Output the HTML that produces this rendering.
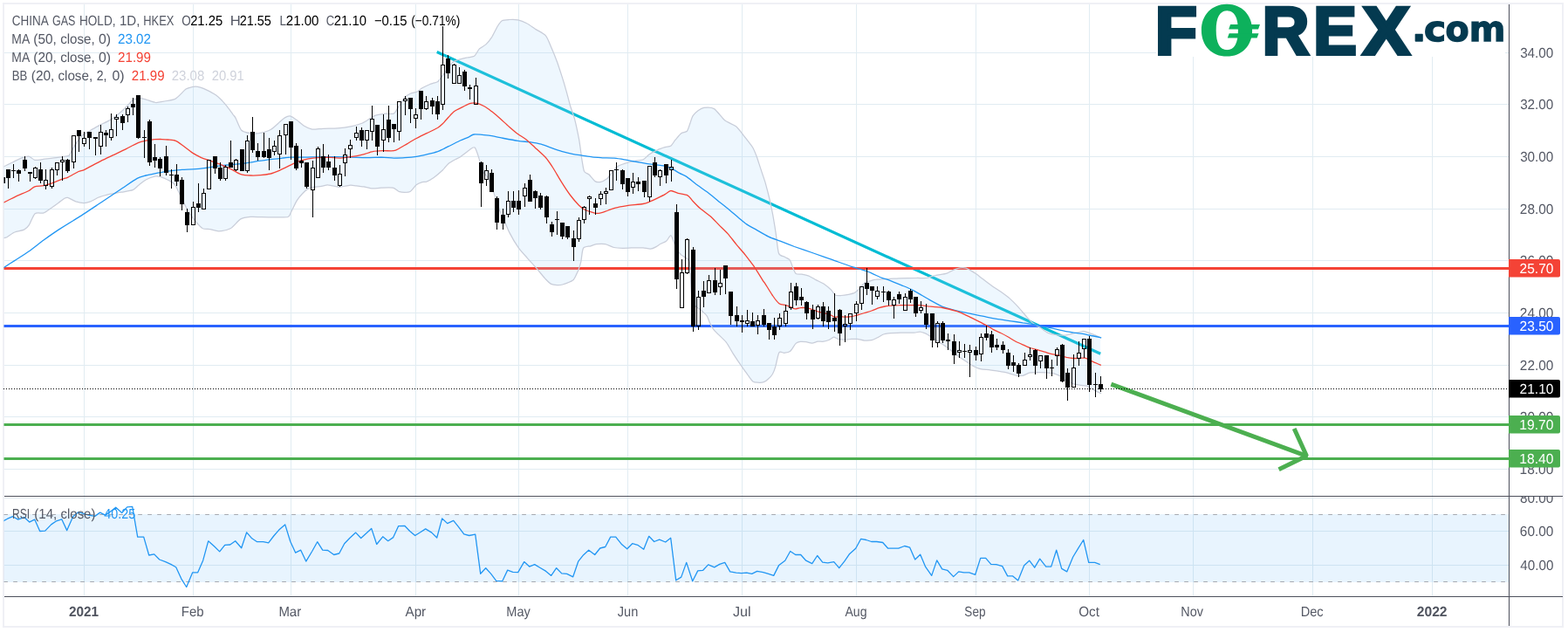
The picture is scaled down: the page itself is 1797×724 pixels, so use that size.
<!DOCTYPE html>
<html lang="en"><head><meta charset="utf-8"><title>CHINA GAS HOLD, 1D, HKEX</title>
<style>html,body{margin:0;padding:0;background:#fff;overflow:hidden}svg{display:block;font-family:"Liberation Sans",sans-serif}text{white-space:pre;text-rendering:geometricPrecision}</style>
</head><body>
<svg width="1797" height="724" viewBox="0 0 1797 724">
<rect width="1797" height="724" fill="#fff"/>
<rect x="4" y="4" width="1787" height="714" fill="none" stroke="#eff0f5" stroke-width="2"/>
<path d="M96.5 5V683M221.5 5V683M333.5 5V683M476.5 5V683M594.5 5V683M719.5 5V683M850.5 5V683M981.5 5V683M1118.5 5V683M1248.5 5V683M1367.5 5V683M1504.5 5V683M1641.5 5V683M4.5 537.5H1729M4.5 477.5H1729M4.5 418.5H1729M4.5 358.5H1729M4.5 298.5H1729M4.5 239.5H1729M4.5 179.5H1729M4.5 119.5H1729M4.5 60.5H1729M4.5 570.5H1729M4.5 608.5H1729M4.5 647.5H1729" stroke="#e1ecf2" stroke-width="1" fill="none" shape-rendering="crispEdges"/>
<rect x="4.5" y="589.0" width="1724.5" height="78.0" fill="#2196f3" fill-opacity="0.1"/>
<path d="M4.5 589.5H1729M4.5 666.5H1729" stroke="#a6a9b0" stroke-width="1" stroke-dasharray="4.7 6.3" stroke-dashoffset="0.3" fill="none"/>
<line x1="500.7" y1="59.5" x2="1261.2" y2="405.2" stroke="#00bcd4" stroke-width="3.2"/>
<g stroke="#4caf50" stroke-width="5" fill="none"><path d="M1273.4 440.1L1497.4 522.3"/><path d="M1483.2 491L1497.4 522.3L1465.6 537.8" stroke-linejoin="bevel"/></g>
<rect x="4.5" y="306.0" width="1724.5" height="3" fill="#f44336"/>
<rect x="4.5" y="372.0" width="1724.5" height="3" fill="#2962ff"/>
<rect x="4.5" y="485.0" width="1724.5" height="3" fill="#4caf50"/>
<rect x="4.5" y="524.0" width="1724.5" height="3" fill="#4caf50"/>
<clipPath id="cm"><rect x="4.5" y="5" width="1724.5" height="563"/></clipPath>
<g clip-path="url(#cm)">
<path d="M4.1 191.1C5.4 190.4 12.3 187.0 14.9 185.7C17.5 184.4 22.6 181.6 24.9 180.8C27.2 180.0 31.2 178.8 33.1 179.1C35.0 179.4 37.7 182.9 39.8 183.3C41.9 183.7 46.4 182.8 49.7 182.4C53.0 182.0 62.8 180.9 66.3 180.4C69.8 179.9 76.2 179.2 77.9 178.7C79.6 178.2 79.2 178.0 80.2 176.5C81.2 175.0 84.1 169.0 85.8 166.4C87.5 163.8 91.7 157.8 93.8 155.7C96.0 153.6 100.7 151.2 103.2 149.7C105.7 148.1 110.9 145.2 113.9 143.6C117.0 142.0 124.2 138.9 127.3 136.9C130.5 134.9 136.9 129.7 139.4 127.5C141.9 125.4 145.8 121.2 147.5 119.5C149.1 117.8 151.1 115.0 152.8 114.1C154.5 113.3 159.0 112.5 160.9 112.5C162.7 112.5 165.4 113.5 167.6 114.1C169.7 114.7 175.8 117.2 178.3 117.5C180.8 117.7 184.8 116.7 187.7 116.1C190.5 115.6 197.9 114.8 201.1 113.1C204.3 111.3 210.8 103.7 213.1 102.1C215.5 100.4 218.2 100.0 219.8 99.7C221.5 99.3 224.9 99.2 226.5 99.4C228.2 99.6 230.7 100.3 233.2 101.4C235.8 102.5 244.3 106.9 246.9 108.5C249.4 110.1 251.9 112.6 253.5 114.3C255.2 116.0 258.6 119.8 260.2 121.8C261.9 123.9 265.7 129.4 266.9 131.0C268.1 132.7 268.8 132.8 270.0 135.1C271.2 137.4 274.6 147.1 276.7 149.3C278.8 151.5 284.2 152.2 286.7 152.7C289.2 153.1 293.8 153.2 296.7 152.7C299.7 152.1 307.2 150.1 310.1 148.5C313.0 146.9 318.1 141.9 320.1 140.1C322.2 138.4 325.2 135.5 326.8 134.6C328.4 133.7 331.3 132.7 333.0 133.1C334.7 133.5 338.3 136.2 340.2 137.6C342.1 139.0 346.4 143.0 348.6 144.3C350.7 145.6 355.0 147.8 357.7 148.2C360.5 148.5 366.6 147.5 370.3 147.3C373.9 147.1 383.0 147.1 387.0 146.8C391.0 146.5 398.5 145.5 402.0 144.8C405.6 144.1 412.7 142.1 415.4 141.0C418.1 139.9 421.9 137.1 423.8 135.9C425.6 134.8 428.2 132.8 430.5 132.1C432.8 131.4 439.5 130.4 442.2 130.1C444.8 129.8 449.5 131.1 451.3 130.1C453.2 129.1 455.6 124.0 457.2 121.7C458.8 119.4 462.2 113.6 463.9 111.7C465.6 109.9 468.9 107.8 470.6 107.0C472.2 106.2 475.6 106.1 477.3 105.4C478.9 104.6 482.1 101.9 483.9 100.8C485.8 99.8 490.7 97.4 492.3 96.7C493.9 96.0 495.5 95.6 496.7 95.2C497.9 94.8 500.4 94.7 501.7 93.5C503.1 92.4 505.5 88.7 507.6 86.0C509.7 83.3 516.2 74.0 518.4 71.8C520.6 69.6 523.0 69.2 525.1 68.5C527.2 67.7 532.9 66.5 535.2 66.0C537.5 65.4 541.7 65.5 543.5 64.3C545.3 63.0 547.7 57.6 549.4 55.9C551.0 54.3 555.1 52.6 556.9 50.9C558.7 49.2 561.9 45.2 563.6 42.6C565.2 40.0 568.8 32.4 570.3 30.0C571.7 27.7 573.6 24.6 575.3 23.7C576.9 22.7 581.3 22.6 583.6 22.5C585.9 22.4 591.1 22.3 593.7 22.8C596.2 23.4 601.2 25.4 603.7 26.7C606.2 28.0 611.0 31.6 613.7 33.4C616.4 35.1 623.1 38.2 625.4 40.9C627.7 43.6 630.4 51.2 632.1 55.1C633.8 59.0 637.3 67.8 638.8 71.8C640.2 75.8 642.5 82.9 643.8 86.9C645.1 90.8 647.6 99.2 648.8 103.6C650.1 108.0 652.6 117.8 653.8 122.0C655.1 126.1 657.4 132.0 658.7 136.8C659.9 141.6 662.6 154.4 663.7 160.2C664.7 166.1 666.3 179.1 667.0 183.6C667.8 188.1 668.5 194.1 669.5 196.2C670.6 198.3 673.8 198.9 675.4 200.3C676.9 201.8 680.2 206.6 681.9 207.6C683.5 208.6 686.9 208.8 688.6 208.4C690.2 208.1 694.0 206.0 695.2 205.1C696.5 204.2 697.3 202.8 698.8 201.0C700.3 199.3 704.8 192.9 707.1 191.1C709.4 189.4 714.7 187.8 717.2 187.0C719.7 186.1 724.7 185.0 727.2 184.5C729.7 183.9 735.1 183.7 737.2 182.8C739.3 181.9 741.8 178.3 743.9 176.9C746.0 175.5 751.6 172.6 753.9 171.6C756.2 170.5 760.4 169.2 762.3 168.6C764.2 168.0 767.5 168.0 769.0 166.9C770.4 165.9 772.5 162.0 774.0 160.2C775.5 158.5 779.0 154.0 780.7 152.7C782.4 151.5 786.1 151.6 787.4 150.2C788.6 148.8 789.9 144.0 790.7 141.8C791.5 139.6 792.9 134.5 794.1 132.6C795.2 130.8 798.4 127.9 800.0 126.7C801.6 125.6 804.4 123.7 806.7 123.4C809.0 123.1 815.4 122.7 818.4 124.6C821.4 126.4 827.8 135.6 830.9 138.1C834.1 140.6 840.6 142.5 843.5 144.8C846.3 147.1 851.1 153.8 853.5 156.8C855.9 159.9 861.0 166.3 862.7 169.0C864.3 171.7 865.7 175.5 866.9 178.6C868.0 181.6 870.6 189.8 871.9 193.6C873.1 197.4 875.8 205.2 876.9 208.6C877.9 212.1 879.5 218.3 880.2 221.0C880.9 223.7 881.7 226.8 882.4 230.0C883.1 233.2 884.9 242.1 885.8 246.7C886.6 251.3 888.3 261.3 889.1 266.8C890.0 272.2 891.2 286.7 892.5 290.2C893.7 293.6 897.6 293.4 899.2 294.3C900.7 295.3 903.8 296.1 905.0 297.7C906.2 299.2 907.9 304.8 908.8 306.7C909.6 308.7 910.8 312.5 912.1 313.4C913.4 314.3 916.9 313.9 918.8 314.2C920.7 314.6 925.1 315.4 927.1 316.2C929.2 317.1 933.4 319.8 935.5 320.9C937.6 322.0 941.8 323.7 943.9 325.1C945.9 326.5 950.5 330.2 952.2 331.8C953.9 333.4 955.8 337.1 957.2 338.0C958.7 338.8 962.0 338.6 963.9 338.5C965.8 338.4 970.4 337.7 972.3 337.3C974.1 336.9 977.5 336.3 979.0 335.6C980.4 334.9 982.5 333.2 984.0 331.8C985.4 330.4 989.0 325.5 990.7 324.3C992.3 323.0 995.7 322.3 997.3 321.8C999.0 321.2 1001.6 320.3 1004.0 320.1C1006.4 319.8 1013.5 319.8 1016.7 319.6C1020.0 319.5 1025.9 319.0 1030.1 318.8C1034.3 318.7 1046.2 318.5 1050.1 318.5C1054.1 318.4 1059.1 318.8 1061.8 318.5C1064.6 318.1 1068.9 316.1 1071.9 315.5C1074.8 314.8 1082.5 314.0 1085.2 313.1C1088.0 312.3 1091.7 309.6 1093.6 308.8C1095.5 308.0 1098.6 307.0 1100.3 306.8C1102.0 306.6 1104.9 306.4 1107.0 307.1C1109.1 307.8 1114.5 311.0 1117.0 312.6C1119.5 314.3 1124.5 318.3 1127.0 320.1C1129.5 322.0 1134.5 325.9 1137.1 327.7C1139.6 329.4 1144.6 332.6 1147.1 334.3C1149.6 336.1 1154.6 339.7 1157.1 341.9C1159.6 344.1 1164.6 349.2 1167.1 351.9C1169.6 354.6 1175.1 361.3 1177.2 363.6C1179.3 365.9 1182.0 368.8 1183.9 370.3C1185.7 371.7 1190.1 373.9 1192.2 375.3C1194.3 376.7 1198.3 380.1 1200.6 381.1C1202.9 382.2 1208.1 383.3 1210.6 383.7C1213.1 384.0 1218.1 384.2 1220.6 384.0C1223.1 383.8 1228.1 382.5 1230.7 382.0C1233.2 381.4 1238.6 379.6 1240.7 379.5C1242.8 379.4 1245.7 380.6 1247.4 381.1C1249.0 381.7 1252.3 383.0 1254.1 383.7C1255.8 384.3 1260.2 386.3 1261.1 386.7C1262.0 387.0 1261.2 386.7 1261.2 386.7L1261.2 450.5C1261.2 450.5 1262.3 451.0 1261.2 450.5C1260.0 449.9 1254.2 447.0 1252.3 446.0C1250.4 444.9 1247.3 442.7 1245.6 442.1C1243.9 441.5 1240.8 441.6 1238.9 441.3C1237.0 441.0 1232.9 440.5 1230.6 439.8C1228.3 439.0 1222.6 436.5 1220.5 435.3C1218.5 434.1 1215.5 431.2 1213.9 430.3C1212.2 429.3 1208.8 428.2 1207.2 427.7C1205.5 427.3 1202.6 427.1 1200.5 426.9C1198.4 426.8 1193.0 426.6 1190.5 426.6C1187.9 426.6 1182.7 426.5 1180.4 426.9C1178.1 427.4 1174.2 429.9 1172.1 430.3C1170.0 430.6 1166.0 430.2 1163.7 429.8C1161.4 429.3 1156.2 427.5 1153.7 426.9C1151.2 426.3 1146.2 425.7 1143.7 425.2C1141.1 424.8 1136.1 423.9 1133.6 423.6C1131.1 423.3 1126.1 423.4 1123.6 422.7C1121.1 422.1 1115.9 419.5 1113.6 418.2C1111.3 417.0 1107.3 414.1 1105.2 412.7C1103.1 411.3 1099.4 408.7 1096.9 406.9C1094.3 405.0 1088.1 399.8 1085.2 397.7C1082.2 395.6 1076.2 391.9 1073.5 390.1C1070.7 388.4 1065.1 384.5 1063.4 383.5C1061.7 382.4 1061.2 382.1 1060.0 381.7C1058.9 381.3 1055.7 380.1 1054.2 380.0C1052.6 380.0 1050.0 381.1 1047.5 381.2C1045.0 381.3 1037.5 381.1 1034.1 381.2C1030.8 381.3 1023.5 381.5 1020.7 381.7C1018.0 381.9 1014.3 382.4 1012.4 383.0C1010.5 383.7 1007.4 385.9 1005.7 386.7C1004.0 387.5 1000.9 389.3 999.0 389.7C997.1 390.1 992.7 390.2 990.7 390.1C988.6 389.9 984.2 388.6 982.3 388.4C980.4 388.2 977.3 388.3 975.6 388.4C973.9 388.5 970.8 389.2 968.9 389.2C967.0 389.2 962.2 388.8 960.6 388.4C958.9 388.0 956.8 386.1 955.6 386.2C954.3 386.3 952.0 388.6 950.5 389.2C949.1 389.8 945.5 391.0 943.9 391.2C942.2 391.5 938.8 391.0 937.2 391.2C935.5 391.5 932.2 393.0 930.5 393.1C928.8 393.1 925.5 391.9 923.8 391.7C922.1 391.5 918.6 391.2 917.1 391.4C915.6 391.6 913.6 392.0 912.1 393.4C910.6 394.8 907.1 401.2 905.4 402.6C903.7 404.0 900.3 404.1 898.7 404.3C897.2 404.4 894.1 401.9 892.9 403.9C891.6 405.9 889.6 417.1 888.7 420.1C887.8 423.2 886.4 426.7 885.4 428.5C884.3 430.3 881.6 433.2 880.3 434.3C879.1 435.5 876.8 437.2 875.3 437.7C873.9 438.2 870.2 438.3 868.6 438.2C867.1 438.1 864.3 438.0 862.8 436.9C861.3 435.7 858.5 431.4 856.9 429.3C855.4 427.2 852.3 423.2 850.3 420.1C848.2 417.1 842.5 408.7 840.2 405.1C837.9 401.5 834.6 395.1 831.9 391.7C829.2 388.4 820.8 381.1 818.5 378.4C816.2 375.6 814.5 372.1 813.5 370.0C812.4 367.9 811.4 363.7 810.1 361.9C808.9 360.0 805.5 357.3 803.5 355.2C801.4 353.1 795.0 351.8 793.4 345.2C791.8 338.5 791.5 308.1 790.5 301.9C789.5 295.6 786.8 296.4 785.5 295.2C784.2 293.9 781.7 293.1 780.5 291.8C779.2 290.6 776.5 287.0 775.5 285.2C774.4 283.3 773.0 278.7 772.1 276.8C771.3 274.9 769.8 269.7 768.8 269.6C767.7 269.5 765.2 274.8 763.8 276.0C762.3 277.2 758.5 278.5 757.1 279.3C755.6 280.1 753.5 281.9 752.1 282.6C750.6 283.4 747.3 285.0 745.4 285.2C743.5 285.3 739.3 284.0 737.0 283.8C734.7 283.7 729.9 283.8 727.0 283.8C724.1 283.9 716.6 284.4 713.6 284.3C710.7 284.3 706.1 284.1 703.6 283.5C701.1 282.9 696.1 280.1 693.6 279.6C691.1 279.2 685.6 279.4 683.5 279.6C681.5 279.9 678.7 281.2 676.9 281.8C675.0 282.4 669.9 282.1 668.5 284.3C667.1 286.5 666.5 296.3 665.9 299.3C665.3 302.3 664.0 306.2 663.4 308.0C662.8 309.8 661.8 312.0 660.9 313.6C660.0 315.2 658.5 319.6 656.5 321.1C654.5 322.7 647.0 325.3 644.7 326.0C642.5 326.7 640.1 326.8 638.5 326.7C636.9 326.6 633.4 326.3 631.7 325.4C630.0 324.5 626.9 321.4 624.8 319.2C622.7 316.9 617.5 310.4 614.9 307.4C612.3 304.4 606.7 298.3 604.1 295.3C601.5 292.4 596.6 287.2 594.1 283.6C591.6 280.1 585.9 270.5 584.1 266.9C582.2 263.4 580.5 258.6 579.0 255.2C577.6 251.9 574.0 244.6 572.4 240.2C570.7 235.8 567.3 224.7 565.7 220.1C564.0 215.5 560.6 206.5 559.0 203.4C557.3 200.3 553.7 198.0 552.5 195.3C551.2 192.6 550.2 185.2 549.1 181.9C548.1 178.6 545.6 170.3 544.1 169.0C542.6 167.8 539.5 170.8 537.4 172.2C535.3 173.6 529.1 178.7 527.2 180.0C525.3 181.3 523.9 181.6 522.2 182.5C520.5 183.4 515.7 186.0 513.9 187.5C512.0 189.1 509.3 193.1 507.2 195.0C505.1 197.0 499.4 201.8 497.1 203.4C494.8 205.0 490.5 207.4 488.8 208.1C487.1 208.7 485.2 208.3 483.8 208.7C482.3 209.2 478.8 210.4 477.1 211.8C475.4 213.1 472.1 218.2 470.4 219.3C468.7 220.4 465.4 220.4 463.7 220.4C462.0 220.4 458.7 219.9 457.0 219.3C455.4 218.6 452.8 215.6 450.3 215.1C447.8 214.6 439.9 215.0 437.0 215.1C434.0 215.2 429.4 216.1 426.9 215.9C424.4 215.8 419.2 214.3 416.9 213.9C414.6 213.6 410.4 213.2 408.6 212.9C406.7 212.7 403.3 212.1 401.9 212.1C400.4 212.1 398.5 212.7 396.9 212.9C395.2 213.2 390.6 214.3 388.5 214.3C386.4 214.2 381.8 212.9 380.1 212.6C378.5 212.3 376.6 211.7 375.1 211.8C373.7 211.9 370.3 213.1 368.4 213.4C366.6 213.7 362.0 214.0 360.1 214.3C358.2 214.6 355.1 215.0 353.4 215.9C351.7 216.9 348.4 220.0 346.7 221.8C345.0 223.6 341.7 227.4 340.0 230.1C338.4 232.9 334.6 241.2 333.3 243.5C332.1 245.8 332.3 247.9 330.0 248.5C327.7 249.2 318.7 248.8 315.0 248.9C311.2 248.9 303.5 248.8 300.0 248.7C296.6 248.7 290.5 248.1 287.5 248.4C284.5 248.7 278.7 249.2 275.8 250.9C272.9 252.6 267.2 260.1 264.1 261.8C260.9 263.5 253.6 264.7 250.7 264.8C247.8 264.9 243.0 263.0 240.7 262.6C238.4 262.2 234.4 262.9 232.3 261.8C230.2 260.6 226.1 255.9 224.0 253.4C221.9 250.9 217.5 245.0 215.6 241.9C213.7 238.8 210.8 232.3 208.9 228.6C207.0 224.8 202.7 214.7 200.6 211.8C198.5 209.0 194.3 207.1 192.2 206.0C190.1 204.8 185.7 203.1 183.9 202.6C182.0 202.2 179.3 201.7 177.2 202.1C175.1 202.6 169.4 204.7 167.1 206.0C164.8 207.2 160.7 210.7 158.8 212.2C156.9 213.6 154.6 216.7 152.1 217.7C149.6 218.7 142.5 219.5 138.7 220.2C135.0 220.9 125.1 222.6 122.0 223.3C118.9 224.0 116.0 224.9 113.7 225.8C111.4 226.8 105.8 230.0 103.6 230.9C101.4 231.7 98.2 232.5 96.1 232.5C94.0 232.5 89.2 231.6 86.9 230.9C84.6 230.1 79.4 226.8 77.7 226.4C76.0 225.9 74.9 226.7 73.5 227.5C72.2 228.3 68.7 231.2 66.9 232.5C65.0 233.9 60.6 237.0 58.5 238.4C56.4 239.8 52.4 243.1 50.1 243.9C47.8 244.7 42.2 243.0 40.1 244.7C38.0 246.4 35.0 255.3 33.4 257.6C31.9 259.9 29.7 262.1 27.6 263.1C25.5 264.2 19.1 264.9 16.7 266.0C14.3 267.0 9.9 270.6 8.4 271.5C6.8 272.3 4.7 272.5 4.2 272.6Z" fill="#9fd0fa" fill-opacity="0.18" stroke="none"/>
<path d="M4.1 191.1C5.4 190.4 12.3 187.0 14.9 185.7C17.5 184.4 22.6 181.6 24.9 180.8C27.2 180.0 31.2 178.8 33.1 179.1C35.0 179.4 37.7 182.9 39.8 183.3C41.9 183.7 46.4 182.8 49.7 182.4C53.0 182.0 62.8 180.9 66.3 180.4C69.8 179.9 76.2 179.2 77.9 178.7C79.6 178.2 79.2 178.0 80.2 176.5C81.2 175.0 84.1 169.0 85.8 166.4C87.5 163.8 91.7 157.8 93.8 155.7C96.0 153.6 100.7 151.2 103.2 149.7C105.7 148.1 110.9 145.2 113.9 143.6C117.0 142.0 124.2 138.9 127.3 136.9C130.5 134.9 136.9 129.7 139.4 127.5C141.9 125.4 145.8 121.2 147.5 119.5C149.1 117.8 151.1 115.0 152.8 114.1C154.5 113.3 159.0 112.5 160.9 112.5C162.7 112.5 165.4 113.5 167.6 114.1C169.7 114.7 175.8 117.2 178.3 117.5C180.8 117.7 184.8 116.7 187.7 116.1C190.5 115.6 197.9 114.8 201.1 113.1C204.3 111.3 210.8 103.7 213.1 102.1C215.5 100.4 218.2 100.0 219.8 99.7C221.5 99.3 224.9 99.2 226.5 99.4C228.2 99.6 230.7 100.3 233.2 101.4C235.8 102.5 244.3 106.9 246.9 108.5C249.4 110.1 251.9 112.6 253.5 114.3C255.2 116.0 258.6 119.8 260.2 121.8C261.9 123.9 265.7 129.4 266.9 131.0C268.1 132.7 268.8 132.8 270.0 135.1C271.2 137.4 274.6 147.1 276.7 149.3C278.8 151.5 284.2 152.2 286.7 152.7C289.2 153.1 293.8 153.2 296.7 152.7C299.7 152.1 307.2 150.1 310.1 148.5C313.0 146.9 318.1 141.9 320.1 140.1C322.2 138.4 325.2 135.5 326.8 134.6C328.4 133.7 331.3 132.7 333.0 133.1C334.7 133.5 338.3 136.2 340.2 137.6C342.1 139.0 346.4 143.0 348.6 144.3C350.7 145.6 355.0 147.8 357.7 148.2C360.5 148.5 366.6 147.5 370.3 147.3C373.9 147.1 383.0 147.1 387.0 146.8C391.0 146.5 398.5 145.5 402.0 144.8C405.6 144.1 412.7 142.1 415.4 141.0C418.1 139.9 421.9 137.1 423.8 135.9C425.6 134.8 428.2 132.8 430.5 132.1C432.8 131.4 439.5 130.4 442.2 130.1C444.8 129.8 449.5 131.1 451.3 130.1C453.2 129.1 455.6 124.0 457.2 121.7C458.8 119.4 462.2 113.6 463.9 111.7C465.6 109.9 468.9 107.8 470.6 107.0C472.2 106.2 475.6 106.1 477.3 105.4C478.9 104.6 482.1 101.9 483.9 100.8C485.8 99.8 490.7 97.4 492.3 96.7C493.9 96.0 495.5 95.6 496.7 95.2C497.9 94.8 500.4 94.7 501.7 93.5C503.1 92.4 505.5 88.7 507.6 86.0C509.7 83.3 516.2 74.0 518.4 71.8C520.6 69.6 523.0 69.2 525.1 68.5C527.2 67.7 532.9 66.5 535.2 66.0C537.5 65.4 541.7 65.5 543.5 64.3C545.3 63.0 547.7 57.6 549.4 55.9C551.0 54.3 555.1 52.6 556.9 50.9C558.7 49.2 561.9 45.2 563.6 42.6C565.2 40.0 568.8 32.4 570.3 30.0C571.7 27.7 573.6 24.6 575.3 23.7C576.9 22.7 581.3 22.6 583.6 22.5C585.9 22.4 591.1 22.3 593.7 22.8C596.2 23.4 601.2 25.4 603.7 26.7C606.2 28.0 611.0 31.6 613.7 33.4C616.4 35.1 623.1 38.2 625.4 40.9C627.7 43.6 630.4 51.2 632.1 55.1C633.8 59.0 637.3 67.8 638.8 71.8C640.2 75.8 642.5 82.9 643.8 86.9C645.1 90.8 647.6 99.2 648.8 103.6C650.1 108.0 652.6 117.8 653.8 122.0C655.1 126.1 657.4 132.0 658.7 136.8C659.9 141.6 662.6 154.4 663.7 160.2C664.7 166.1 666.3 179.1 667.0 183.6C667.8 188.1 668.5 194.1 669.5 196.2C670.6 198.3 673.8 198.9 675.4 200.3C676.9 201.8 680.2 206.6 681.9 207.6C683.5 208.6 686.9 208.8 688.6 208.4C690.2 208.1 694.0 206.0 695.2 205.1C696.5 204.2 697.3 202.8 698.8 201.0C700.3 199.3 704.8 192.9 707.1 191.1C709.4 189.4 714.7 187.8 717.2 187.0C719.7 186.1 724.7 185.0 727.2 184.5C729.7 183.9 735.1 183.7 737.2 182.8C739.3 181.9 741.8 178.3 743.9 176.9C746.0 175.5 751.6 172.6 753.9 171.6C756.2 170.5 760.4 169.2 762.3 168.6C764.2 168.0 767.5 168.0 769.0 166.9C770.4 165.9 772.5 162.0 774.0 160.2C775.5 158.5 779.0 154.0 780.7 152.7C782.4 151.5 786.1 151.6 787.4 150.2C788.6 148.8 789.9 144.0 790.7 141.8C791.5 139.6 792.9 134.5 794.1 132.6C795.2 130.8 798.4 127.9 800.0 126.7C801.6 125.6 804.4 123.7 806.7 123.4C809.0 123.1 815.4 122.7 818.4 124.6C821.4 126.4 827.8 135.6 830.9 138.1C834.1 140.6 840.6 142.5 843.5 144.8C846.3 147.1 851.1 153.8 853.5 156.8C855.9 159.9 861.0 166.3 862.7 169.0C864.3 171.7 865.7 175.5 866.9 178.6C868.0 181.6 870.6 189.8 871.9 193.6C873.1 197.4 875.8 205.2 876.9 208.6C877.9 212.1 879.5 218.3 880.2 221.0C880.9 223.7 881.7 226.8 882.4 230.0C883.1 233.2 884.9 242.1 885.8 246.7C886.6 251.3 888.3 261.3 889.1 266.8C890.0 272.2 891.2 286.7 892.5 290.2C893.7 293.6 897.6 293.4 899.2 294.3C900.7 295.3 903.8 296.1 905.0 297.7C906.2 299.2 907.9 304.8 908.8 306.7C909.6 308.7 910.8 312.5 912.1 313.4C913.4 314.3 916.9 313.9 918.8 314.2C920.7 314.6 925.1 315.4 927.1 316.2C929.2 317.1 933.4 319.8 935.5 320.9C937.6 322.0 941.8 323.7 943.9 325.1C945.9 326.5 950.5 330.2 952.2 331.8C953.9 333.4 955.8 337.1 957.2 338.0C958.7 338.8 962.0 338.6 963.9 338.5C965.8 338.4 970.4 337.7 972.3 337.3C974.1 336.9 977.5 336.3 979.0 335.6C980.4 334.9 982.5 333.2 984.0 331.8C985.4 330.4 989.0 325.5 990.7 324.3C992.3 323.0 995.7 322.3 997.3 321.8C999.0 321.2 1001.6 320.3 1004.0 320.1C1006.4 319.8 1013.5 319.8 1016.7 319.6C1020.0 319.5 1025.9 319.0 1030.1 318.8C1034.3 318.7 1046.2 318.5 1050.1 318.5C1054.1 318.4 1059.1 318.8 1061.8 318.5C1064.6 318.1 1068.9 316.1 1071.9 315.5C1074.8 314.8 1082.5 314.0 1085.2 313.1C1088.0 312.3 1091.7 309.6 1093.6 308.8C1095.5 308.0 1098.6 307.0 1100.3 306.8C1102.0 306.6 1104.9 306.4 1107.0 307.1C1109.1 307.8 1114.5 311.0 1117.0 312.6C1119.5 314.3 1124.5 318.3 1127.0 320.1C1129.5 322.0 1134.5 325.9 1137.1 327.7C1139.6 329.4 1144.6 332.6 1147.1 334.3C1149.6 336.1 1154.6 339.7 1157.1 341.9C1159.6 344.1 1164.6 349.2 1167.1 351.9C1169.6 354.6 1175.1 361.3 1177.2 363.6C1179.3 365.9 1182.0 368.8 1183.9 370.3C1185.7 371.7 1190.1 373.9 1192.2 375.3C1194.3 376.7 1198.3 380.1 1200.6 381.1C1202.9 382.2 1208.1 383.3 1210.6 383.7C1213.1 384.0 1218.1 384.2 1220.6 384.0C1223.1 383.8 1228.1 382.5 1230.7 382.0C1233.2 381.4 1238.6 379.6 1240.7 379.5C1242.8 379.4 1245.7 380.6 1247.4 381.1C1249.0 381.7 1252.3 383.0 1254.1 383.7C1255.8 384.3 1260.2 386.3 1261.1 386.7C1262.0 387.0 1261.2 386.7 1261.2 386.7" fill="none" stroke="#c8cdd9" stroke-width="1.25" stroke-linejoin="round"/>
<path d="M4.2 272.6C4.7 272.5 6.8 272.3 8.4 271.5C9.9 270.6 14.3 267.0 16.7 266.0C19.1 264.9 25.5 264.2 27.6 263.1C29.7 262.1 31.9 259.9 33.4 257.6C35.0 255.3 38.0 246.4 40.1 244.7C42.2 243.0 47.8 244.7 50.1 243.9C52.4 243.1 56.4 239.8 58.5 238.4C60.6 237.0 65.0 233.9 66.9 232.5C68.7 231.2 72.2 228.3 73.5 227.5C74.9 226.7 76.0 225.9 77.7 226.4C79.4 226.8 84.6 230.1 86.9 230.9C89.2 231.6 94.0 232.5 96.1 232.5C98.2 232.5 101.4 231.7 103.6 230.9C105.8 230.0 111.4 226.8 113.7 225.8C116.0 224.9 118.9 224.0 122.0 223.3C125.1 222.6 135.0 220.9 138.7 220.2C142.5 219.5 149.6 218.7 152.1 217.7C154.6 216.7 156.9 213.6 158.8 212.2C160.7 210.7 164.8 207.2 167.1 206.0C169.4 204.7 175.1 202.6 177.2 202.1C179.3 201.7 182.0 202.2 183.9 202.6C185.7 203.1 190.1 204.8 192.2 206.0C194.3 207.1 198.5 209.0 200.6 211.8C202.7 214.7 207.0 224.8 208.9 228.6C210.8 232.3 213.7 238.8 215.6 241.9C217.5 245.0 221.9 250.9 224.0 253.4C226.1 255.9 230.2 260.6 232.3 261.8C234.4 262.9 238.4 262.2 240.7 262.6C243.0 263.0 247.8 264.9 250.7 264.8C253.6 264.7 260.9 263.5 264.1 261.8C267.2 260.1 272.9 252.6 275.8 250.9C278.7 249.2 284.5 248.7 287.5 248.4C290.5 248.1 296.6 248.7 300.0 248.7C303.5 248.8 311.2 248.9 315.0 248.9C318.7 248.8 327.7 249.2 330.0 248.5C332.3 247.9 332.1 245.8 333.3 243.5C334.6 241.2 338.4 232.9 340.0 230.1C341.7 227.4 345.0 223.6 346.7 221.8C348.4 220.0 351.7 216.9 353.4 215.9C355.1 215.0 358.2 214.6 360.1 214.3C362.0 214.0 366.6 213.7 368.4 213.4C370.3 213.1 373.7 211.9 375.1 211.8C376.6 211.7 378.5 212.3 380.1 212.6C381.8 212.9 386.4 214.2 388.5 214.3C390.6 214.3 395.2 213.2 396.9 212.9C398.5 212.7 400.4 212.1 401.9 212.1C403.3 212.1 406.7 212.7 408.6 212.9C410.4 213.2 414.6 213.6 416.9 213.9C419.2 214.3 424.4 215.8 426.9 215.9C429.4 216.1 434.0 215.2 437.0 215.1C439.9 215.0 447.8 214.6 450.3 215.1C452.8 215.6 455.4 218.6 457.0 219.3C458.7 219.9 462.0 220.4 463.7 220.4C465.4 220.4 468.7 220.4 470.4 219.3C472.1 218.2 475.4 213.1 477.1 211.8C478.8 210.4 482.3 209.2 483.8 208.7C485.2 208.3 487.1 208.7 488.8 208.1C490.5 207.4 494.8 205.0 497.1 203.4C499.4 201.8 505.1 197.0 507.2 195.0C509.3 193.1 512.0 189.1 513.9 187.5C515.7 186.0 520.5 183.4 522.2 182.5C523.9 181.6 525.3 181.3 527.2 180.0C529.1 178.7 535.3 173.6 537.4 172.2C539.5 170.8 542.6 167.8 544.1 169.0C545.6 170.3 548.1 178.6 549.1 181.9C550.2 185.2 551.2 192.6 552.5 195.3C553.7 198.0 557.3 200.3 559.0 203.4C560.6 206.5 564.0 215.5 565.7 220.1C567.3 224.7 570.7 235.8 572.4 240.2C574.0 244.6 577.6 251.9 579.0 255.2C580.5 258.6 582.2 263.4 584.1 266.9C585.9 270.5 591.6 280.1 594.1 283.6C596.6 287.2 601.5 292.4 604.1 295.3C606.7 298.3 612.3 304.4 614.9 307.4C617.5 310.4 622.7 316.9 624.8 319.2C626.9 321.4 630.0 324.5 631.7 325.4C633.4 326.3 636.9 326.6 638.5 326.7C640.1 326.8 642.5 326.7 644.7 326.0C647.0 325.3 654.5 322.7 656.5 321.1C658.5 319.6 660.0 315.2 660.9 313.6C661.8 312.0 662.8 309.8 663.4 308.0C664.0 306.2 665.3 302.3 665.9 299.3C666.5 296.3 667.1 286.5 668.5 284.3C669.9 282.1 675.0 282.4 676.9 281.8C678.7 281.2 681.5 279.9 683.5 279.6C685.6 279.4 691.1 279.2 693.6 279.6C696.1 280.1 701.1 282.9 703.6 283.5C706.1 284.1 710.7 284.3 713.6 284.3C716.6 284.4 724.1 283.9 727.0 283.8C729.9 283.8 734.7 283.7 737.0 283.8C739.3 284.0 743.5 285.3 745.4 285.2C747.3 285.0 750.6 283.4 752.1 282.6C753.5 281.9 755.6 280.1 757.1 279.3C758.5 278.5 762.3 277.2 763.8 276.0C765.2 274.8 767.7 269.5 768.8 269.6C769.8 269.7 771.3 274.9 772.1 276.8C773.0 278.7 774.4 283.3 775.5 285.2C776.5 287.0 779.2 290.6 780.5 291.8C781.7 293.1 784.2 293.9 785.5 295.2C786.8 296.4 789.5 295.6 790.5 301.9C791.5 308.1 791.8 338.5 793.4 345.2C795.0 351.8 801.4 353.1 803.5 355.2C805.5 357.3 808.9 360.0 810.1 361.9C811.4 363.7 812.4 367.9 813.5 370.0C814.5 372.1 816.2 375.6 818.5 378.4C820.8 381.1 829.2 388.4 831.9 391.7C834.6 395.1 837.9 401.5 840.2 405.1C842.5 408.7 848.2 417.1 850.3 420.1C852.3 423.2 855.4 427.2 856.9 429.3C858.5 431.4 861.3 435.7 862.8 436.9C864.3 438.0 867.1 438.1 868.6 438.2C870.2 438.3 873.9 438.2 875.3 437.7C876.8 437.2 879.1 435.5 880.3 434.3C881.6 433.2 884.3 430.3 885.4 428.5C886.4 426.7 887.8 423.2 888.7 420.1C889.6 417.1 891.6 405.9 892.9 403.9C894.1 401.9 897.2 404.4 898.7 404.3C900.3 404.1 903.7 404.0 905.4 402.6C907.1 401.2 910.6 394.8 912.1 393.4C913.6 392.0 915.6 391.6 917.1 391.4C918.6 391.2 922.1 391.5 923.8 391.7C925.5 391.9 928.8 393.1 930.5 393.1C932.2 393.0 935.5 391.5 937.2 391.2C938.8 391.0 942.2 391.5 943.9 391.2C945.5 391.0 949.1 389.8 950.5 389.2C952.0 388.6 954.3 386.3 955.6 386.2C956.8 386.1 958.9 388.0 960.6 388.4C962.2 388.8 967.0 389.2 968.9 389.2C970.8 389.2 973.9 388.5 975.6 388.4C977.3 388.3 980.4 388.2 982.3 388.4C984.2 388.6 988.6 389.9 990.7 390.1C992.7 390.2 997.1 390.1 999.0 389.7C1000.9 389.3 1004.0 387.5 1005.7 386.7C1007.4 385.9 1010.5 383.7 1012.4 383.0C1014.3 382.4 1018.0 381.9 1020.7 381.7C1023.5 381.5 1030.8 381.3 1034.1 381.2C1037.5 381.1 1045.0 381.3 1047.5 381.2C1050.0 381.1 1052.6 380.0 1054.2 380.0C1055.7 380.1 1058.9 381.3 1060.0 381.7C1061.2 382.1 1061.7 382.4 1063.4 383.5C1065.1 384.5 1070.7 388.4 1073.5 390.1C1076.2 391.9 1082.2 395.6 1085.2 397.7C1088.1 399.8 1094.3 405.0 1096.9 406.9C1099.4 408.7 1103.1 411.3 1105.2 412.7C1107.3 414.1 1111.3 417.0 1113.6 418.2C1115.9 419.5 1121.1 422.1 1123.6 422.7C1126.1 423.4 1131.1 423.3 1133.6 423.6C1136.1 423.9 1141.1 424.8 1143.7 425.2C1146.2 425.7 1151.2 426.3 1153.7 426.9C1156.2 427.5 1161.4 429.3 1163.7 429.8C1166.0 430.2 1170.0 430.6 1172.1 430.3C1174.2 429.9 1178.1 427.4 1180.4 426.9C1182.7 426.5 1187.9 426.6 1190.5 426.6C1193.0 426.6 1198.4 426.8 1200.5 426.9C1202.6 427.1 1205.5 427.3 1207.2 427.7C1208.8 428.2 1212.2 429.3 1213.9 430.3C1215.5 431.2 1218.5 434.1 1220.5 435.3C1222.6 436.5 1228.3 439.0 1230.6 439.8C1232.9 440.5 1237.0 441.0 1238.9 441.3C1240.8 441.6 1243.9 441.5 1245.6 442.1C1247.3 442.7 1250.4 444.9 1252.3 446.0C1254.2 447.0 1260.0 449.9 1261.2 450.5C1262.3 451.0 1261.2 450.5 1261.2 450.5" fill="none" stroke="#c8cdd9" stroke-width="1.25" stroke-linejoin="round"/>
<path d="M4.2 306.6C5.7 305.6 13.1 300.9 16.7 298.6C20.4 296.2 29.3 290.6 33.4 287.7C37.6 284.7 45.9 278.1 50.1 275.0C54.3 272.0 62.6 266.2 66.8 263.4C71.0 260.7 79.7 255.3 83.5 253.0C87.2 250.6 92.7 247.3 96.8 244.6C101.0 241.9 111.3 235.0 116.9 231.3C122.4 227.6 136.0 218.4 141.1 215.0C146.1 211.6 153.9 206.2 157.2 204.4C160.5 202.6 164.6 201.7 167.1 201.0C169.6 200.3 175.1 199.2 177.2 198.8C179.3 198.4 181.5 198.0 183.9 197.6C186.3 197.2 193.3 196.0 196.4 195.6C199.5 195.2 205.9 194.5 208.9 194.3C212.0 194.1 217.5 194.0 220.6 193.8C223.8 193.6 230.2 193.1 234.0 192.6C237.8 192.2 246.5 190.6 250.7 190.1C254.9 189.6 263.3 188.9 267.4 188.4C271.5 188.0 279.7 187.1 283.4 186.6C287.0 186.1 293.4 184.9 296.7 184.4C300.1 183.9 306.8 183.2 310.1 182.7C313.5 182.3 320.6 181.4 323.5 181.1C326.4 180.8 331.0 180.3 333.5 180.2C336.0 180.1 340.6 180.3 343.5 180.2C346.5 180.2 353.6 180.0 356.9 179.9C360.3 179.8 366.5 179.8 370.3 179.7C374.0 179.7 382.8 179.7 387.0 179.7C391.2 179.8 399.5 180.1 403.7 180.2C407.9 180.3 416.2 180.6 420.4 180.6C424.6 180.6 433.3 180.2 437.1 180.2C441.0 180.3 448.0 181.0 451.3 181.1C454.7 181.1 460.6 181.0 463.9 180.7C467.1 180.5 474.1 179.9 477.3 179.4C480.4 178.9 485.9 177.6 489.0 176.9C492.0 176.2 498.4 174.7 501.5 173.6C504.6 172.4 510.8 169.3 514.0 167.7C517.3 166.1 524.5 162.4 527.4 161.0C530.3 159.7 535.4 157.7 537.4 156.8C539.4 156.0 540.5 154.2 543.3 154.0C546.2 153.8 556.3 154.8 560.1 155.2C563.8 155.7 569.2 156.9 573.4 157.7C577.6 158.5 589.3 160.8 593.5 161.4C597.7 162.0 603.5 162.3 606.9 162.7C610.2 163.2 617.1 164.4 620.2 165.2C623.4 166.1 629.0 168.4 631.9 169.4C634.9 170.4 640.5 172.4 643.6 173.3C646.8 174.2 654.1 176.0 657.0 176.6C659.9 177.2 664.3 177.7 667.0 178.1C669.7 178.5 675.8 179.6 678.7 179.9C681.7 180.3 687.3 180.6 690.4 180.8C693.6 180.9 700.7 180.9 703.8 181.1C706.9 181.4 712.6 182.3 715.5 182.8C718.4 183.3 724.1 184.4 727.2 185.0C730.3 185.5 737.6 186.8 740.6 187.3C743.5 187.8 748.1 188.3 750.6 188.6C753.1 189.0 758.1 189.2 760.6 189.8C763.1 190.4 768.2 192.3 770.5 193.4C772.7 194.5 776.7 197.3 778.8 198.4C780.9 199.6 784.7 200.9 787.2 202.6C789.7 204.3 795.9 209.6 798.9 211.8C801.8 214.0 807.4 217.7 810.6 220.1C813.7 222.5 820.8 228.5 823.9 231.0C827.1 233.5 832.7 237.8 835.6 240.2C838.6 242.6 844.8 248.1 847.3 250.2C849.8 252.3 853.2 255.2 855.7 256.9C858.2 258.6 864.3 261.8 867.4 263.6C870.5 265.4 877.4 269.6 880.8 271.1C884.1 272.7 890.4 274.7 894.1 276.1C897.8 277.6 905.7 280.7 910.4 282.5C915.2 284.2 928.0 288.5 932.2 290.0C936.3 291.5 940.3 292.9 943.9 294.2C947.4 295.4 956.4 298.6 960.6 300.0C964.7 301.5 973.1 304.5 977.3 305.9C981.5 307.2 989.8 309.3 994.0 310.9C998.2 312.5 1007.9 317.3 1010.7 318.4C1013.6 319.6 1013.9 319.1 1016.7 320.1C1019.6 321.2 1029.9 325.4 1033.4 326.8C1037.0 328.3 1042.2 330.4 1045.1 331.8C1048.1 333.3 1054.1 337.0 1056.8 338.5C1059.5 340.1 1063.9 342.8 1066.9 344.4C1069.8 346.0 1077.3 350.1 1080.2 351.4C1083.2 352.7 1087.7 353.7 1090.3 354.4C1092.8 355.1 1096.9 356.2 1100.3 356.9C1103.6 357.6 1113.2 359.5 1117.0 360.3C1120.8 361.0 1127.0 362.4 1130.4 363.1C1133.7 363.8 1140.2 365.0 1143.7 365.6C1147.3 366.2 1155.2 367.3 1158.8 367.8C1162.3 368.3 1169.0 369.3 1172.2 369.8C1175.3 370.2 1181.3 371.0 1183.9 371.5C1186.4 371.9 1189.7 372.8 1192.2 373.3C1194.7 373.8 1200.8 375.0 1203.9 375.6C1207.0 376.3 1213.9 378.0 1217.3 378.6C1220.6 379.3 1227.7 380.7 1230.7 381.1C1233.6 381.6 1238.2 381.9 1240.7 382.3C1243.2 382.7 1248.2 383.9 1250.7 384.5C1253.3 385.0 1259.8 386.4 1261.1 386.7C1262.4 386.9 1261.2 386.7 1261.2 386.7" fill="none" stroke="#2196f3" stroke-width="1.3" stroke-linejoin="round"/>
<path d="M4.2 232.2C4.7 231.9 6.2 231.0 8.3 230.0C10.4 229.0 17.6 225.3 20.7 223.9C23.8 222.5 30.7 219.8 33.1 218.5C35.5 217.2 37.7 214.6 39.8 213.9C41.9 213.2 47.2 213.2 49.7 212.7C52.2 212.2 57.0 210.7 59.7 209.8C62.4 208.9 69.0 206.0 71.3 205.2C73.6 204.4 75.6 204.2 77.9 203.1C80.2 202.0 87.6 197.6 90.0 196.5C92.4 195.4 93.8 195.8 96.9 194.3C100.1 192.8 110.7 186.9 115.3 184.6C119.9 182.3 130.0 177.7 133.7 175.9C137.5 174.1 142.3 171.6 145.4 170.1C148.5 168.5 156.1 164.5 158.8 163.4C161.5 162.3 164.8 161.7 167.1 161.2C169.4 160.7 175.1 159.9 177.2 159.7C179.3 159.5 182.0 159.5 183.9 159.5C185.7 159.6 190.0 159.8 192.2 160.0C194.4 160.3 199.1 160.4 201.4 161.4C203.7 162.3 208.2 165.8 210.6 167.5C213.0 169.3 218.1 173.4 220.6 175.1C223.1 176.7 228.4 179.5 230.7 180.6C233.0 181.6 236.5 182.6 239.0 183.4C241.5 184.3 248.0 186.6 250.7 187.6C253.4 188.7 258.6 190.8 260.7 191.8C262.8 192.7 265.5 194.1 267.4 195.1C269.3 196.1 273.3 198.9 275.8 199.6C278.3 200.4 284.7 200.9 287.5 201.0C290.3 201.1 295.6 200.9 298.4 200.6C301.2 200.4 307.4 199.6 310.1 199.0C312.8 198.3 317.3 196.5 320.1 195.3C323.0 194.1 330.1 190.5 333.0 189.1C335.9 187.7 341.0 185.3 343.5 184.4C346.1 183.5 351.0 182.4 353.6 181.9C356.2 181.4 361.5 180.8 364.4 180.6C367.4 180.4 373.7 180.2 377.0 180.2C380.2 180.3 387.2 181.1 390.3 181.1C393.5 181.0 398.9 180.2 402.0 179.7C405.2 179.3 412.3 178.0 415.4 177.2C418.5 176.5 424.2 174.1 427.1 173.6C430.0 173.0 435.8 172.8 438.8 172.7C441.8 172.6 449.0 173.0 451.3 172.7C453.6 172.4 455.2 171.3 457.2 170.2C459.2 169.2 464.7 165.8 467.2 164.4C469.7 162.9 474.5 160.0 477.3 158.5C480.0 157.1 485.9 154.2 489.0 152.7C492.0 151.2 499.2 147.8 501.5 146.5C503.8 145.1 505.8 143.3 507.3 141.8C508.9 140.3 512.4 136.1 514.0 134.3C515.7 132.5 518.8 129.0 520.7 127.6C522.6 126.2 526.8 124.2 529.1 123.1C531.4 121.9 537.0 119.0 539.1 118.4C541.2 117.8 543.9 117.7 545.8 118.1C547.8 118.5 552.8 120.6 555.0 121.8C557.2 123.0 561.1 125.9 563.4 127.6C565.7 129.4 570.9 133.8 573.4 136.0C575.9 138.2 580.9 143.0 583.5 145.2C586.0 147.4 591.0 151.7 593.5 153.5C596.0 155.4 601.0 158.2 603.5 160.2C606.0 162.2 610.8 166.9 613.5 169.4C616.3 171.9 622.7 177.5 625.2 180.3C627.7 183.1 631.3 188.5 633.6 192.0C635.9 195.5 640.9 204.5 643.4 208.4C645.9 212.4 650.9 220.1 653.5 223.5C656.0 226.8 661.4 233.1 663.5 235.2C665.6 237.3 668.5 239.3 670.2 240.2C671.8 241.1 675.3 242.2 676.9 242.7C678.4 243.2 681.2 244.2 682.7 244.4C684.2 244.5 686.8 244.3 688.6 243.9C690.3 243.5 694.8 241.7 696.9 241.0C699.0 240.3 702.6 238.9 705.3 238.2C708.0 237.5 714.7 236.3 718.6 235.7C722.6 235.1 733.7 234.1 737.0 233.5C740.4 232.9 743.3 231.5 745.4 230.7C747.5 229.8 751.7 227.8 753.7 226.8C755.8 225.8 760.2 223.7 762.1 222.6C764.0 221.6 766.9 218.6 768.8 218.5C770.7 218.3 774.7 220.6 777.1 221.3C779.5 222.0 785.9 222.7 788.0 223.8C790.1 224.9 792.1 228.3 793.9 230.2C795.6 232.0 799.7 236.4 802.2 238.5C804.7 240.7 811.2 245.2 813.9 247.5C816.6 249.9 821.4 255.1 823.9 257.6C826.4 260.1 831.5 264.8 834.0 267.6C836.5 270.4 841.5 277.1 844.0 280.1C846.5 283.2 851.5 288.7 854.0 291.8C856.5 295.0 861.5 301.6 864.1 305.2C866.6 308.9 872.5 318.6 874.1 321.1C875.7 323.6 875.6 322.9 877.0 325.1C878.4 327.3 883.4 335.7 885.4 338.5C887.3 341.3 891.0 346.3 892.9 347.7C894.8 349.1 898.6 349.1 900.4 349.7C902.2 350.2 905.7 351.7 907.1 352.2C908.4 352.7 910.0 353.8 911.3 353.8C912.5 353.9 915.6 352.8 917.1 352.7C918.6 352.5 921.3 352.5 923.0 352.7C924.6 352.9 928.7 353.8 930.5 354.3C932.3 354.9 935.5 356.3 937.2 356.9C938.8 357.4 942.2 358.1 943.9 358.5C945.5 358.9 949.0 359.6 950.5 360.2C952.1 360.8 954.9 362.9 956.4 363.2C957.9 363.5 960.7 362.7 962.2 362.7C963.8 362.7 967.3 363.2 968.9 363.2C970.6 363.2 973.9 363.0 975.6 362.7C977.3 362.4 980.4 361.6 982.3 361.0C984.2 360.5 988.6 359.2 990.7 358.5C992.7 357.9 996.9 356.8 999.0 356.0C1001.1 355.3 1005.5 353.3 1007.4 352.7C1009.2 352.1 1012.4 351.3 1014.1 351.0C1015.7 350.7 1018.6 350.3 1020.7 350.2C1022.8 350.0 1027.8 349.7 1030.8 349.7C1033.7 349.6 1041.2 349.7 1044.1 349.7C1047.1 349.7 1051.8 349.5 1054.2 349.7C1056.6 349.8 1060.2 350.5 1063.4 350.9C1066.7 351.2 1076.0 351.8 1080.1 352.5C1084.3 353.3 1093.7 355.8 1096.9 356.7C1100.0 357.7 1103.1 359.1 1105.2 360.1C1107.3 361.0 1111.3 363.1 1113.6 364.2C1115.9 365.4 1121.5 368.2 1123.6 369.2C1125.7 370.3 1128.4 371.5 1130.3 372.6C1132.2 373.6 1136.6 376.5 1138.6 377.6C1140.7 378.7 1144.9 380.4 1147.0 381.5C1149.1 382.5 1153.3 384.8 1155.4 386.0C1157.4 387.2 1161.6 389.9 1163.7 391.0C1165.8 392.1 1170.0 393.9 1172.1 394.8C1174.2 395.8 1178.3 397.8 1180.4 398.5C1182.5 399.2 1186.7 400.1 1188.8 400.7C1190.9 401.3 1195.1 402.6 1197.1 403.2C1199.2 403.8 1203.4 405.2 1205.5 405.7C1207.6 406.2 1211.8 406.7 1213.9 407.2C1215.9 407.7 1220.1 408.9 1222.2 409.4C1224.3 409.8 1228.5 410.4 1230.6 410.5C1232.7 410.6 1237.3 410.2 1238.9 410.2C1240.6 410.2 1242.7 409.9 1243.9 410.2C1245.2 410.5 1247.5 412.0 1249.0 412.7C1250.4 413.4 1254.1 415.0 1255.6 415.7C1257.2 416.4 1260.5 417.8 1261.2 418.1C1261.9 418.3 1261.2 418.1 1261.2 418.1" fill="none" stroke="#f44336" stroke-width="1.3" stroke-linejoin="round"/>
<path d="M3.5 203V212M9.5 194V216M15.5 188V204M21.5 194V208M28.5 179V196M34.5 197V208M40.5 191V192M40.5 204V205M46.5 186V210M52.5 194V206M52.5 213V217M59.5 192V194M59.5 214V216M65.5 195V201M71.5 179V183M71.5 186V207M77.5 182V198M84.5 186V193M90.5 149V174M96.5 151V158M96.5 165V168M102.5 151V171M109.5 157V178M115.5 143V151M115.5 168V177M121.5 149V168M127.5 130V148M127.5 158V161M133.5 131V134M133.5 137V156M140.5 131V149M146.5 122V124M146.5 132V140M152.5 112V132M158.5 109V159M165.5 149V181M171.5 137V190M177.5 165V192M183.5 180V202M190.5 167V201M196.5 194V216M202.5 188V213M208.5 203V241M214.5 239V266M221.5 231V237M227.5 210V243M233.5 216V221M246.5 179V199M252.5 186V207M258.5 189V191M258.5 205V207M264.5 161V192M270.5 182V183M270.5 195V196M277.5 171V196M283.5 155V161M283.5 196V198M289.5 134V175M295.5 164V184M302.5 152V181M308.5 158V195M314.5 161V167M314.5 174V178M320.5 149V155M320.5 177V193M327.5 155V177M333.5 139V183M339.5 164V195M345.5 171V192M351.5 186V216M358.5 184V192M358.5 218V249M364.5 168V170M370.5 165V198M376.5 177V195M383.5 179V207M389.5 189V199M389.5 213V214M395.5 170V177M395.5 187V202M401.5 160V166M401.5 171V181M408.5 145V152M408.5 158V161M414.5 146V168M420.5 161V171M426.5 121V136M426.5 151V161M432.5 143V178M439.5 131V148M439.5 161V174M445.5 121V163M451.5 142V163M457.5 151V161M464.5 110V113M464.5 116V132M470.5 112V141M476.5 124V131M476.5 136V147M482.5 104V137M488.5 110V116M488.5 125V126M495.5 112V131M501.5 110V137M507.5 30V74M507.5 120V126M513.5 63V90M520.5 73V74M526.5 77V86M532.5 80V104M538.5 97V114M545.5 89V98M551.5 185V237M557.5 189V195M557.5 206V213M563.5 194V220M569.5 225V263M576.5 239V263M582.5 219V230M582.5 246V249M588.5 219V243M594.5 218V246M601.5 210V215M601.5 225V237M607.5 200V231M613.5 218V239M619.5 221V240M626.5 224V256M632.5 254V271M638.5 242V269M644.5 255V274M650.5 259V274M657.5 264V299M663.5 249V252M663.5 274V277M669.5 236V237M669.5 252V256M675.5 224V225M675.5 228V246M682.5 227V246M688.5 219V222M688.5 228V235M694.5 215V219M694.5 222V234M706.5 186V207M713.5 194V217M719.5 204V225M725.5 198V208M725.5 215V222M731.5 203V219M738.5 207V226M744.5 226V231M750.5 180V203M756.5 194V195M756.5 203V213M763.5 188V210M769.5 183V191M769.5 195V208M775.5 234V331M781.5 297V312M787.5 273V274M787.5 313V314M794.5 283V380M800.5 333V340M800.5 374V378M806.5 322V352M812.5 315V321M819.5 307V338M825.5 309V324M825.5 329V338M831.5 304V337M837.5 334V372M844.5 351V374M850.5 361V381M856.5 355V367M856.5 371V374M862.5 358V374M868.5 361V367M868.5 373V383M875.5 354V374M881.5 370V389M887.5 364V389M893.5 359V364M893.5 374V378M900.5 349V356M900.5 371V374M906.5 324V334M906.5 353V355M912.5 324V350M918.5 330V350M924.5 345V366M931.5 349V377M937.5 349V351M937.5 365V366M943.5 346V374M949.5 351V377M956.5 336V380M962.5 354V396M968.5 361V371M968.5 374V392M974.5 371V378M981.5 345V348M981.5 359V368M987.5 348V355M993.5 307V338M999.5 328V349M1005.5 328V333M1005.5 340V343M1012.5 328V346M1018.5 333V350M1024.5 340V343M1024.5 350V365M1030.5 334V348M1037.5 336V340M1043.5 331V347M1049.5 340V363M1055.5 345V352M1055.5 356V359M1061.5 348V377M1068.5 359V398M1074.5 368V370M1074.5 393V398M1080.5 368V393M1086.5 382V401M1093.5 383V417M1099.5 391V401M1099.5 404V410M1105.5 394V410M1111.5 395V401M1111.5 404V432M1118.5 397V413M1124.5 382V386M1124.5 406V414M1130.5 373V390M1136.5 379V404M1142.5 388V401M1149.5 391V405M1155.5 400V423M1161.5 407V426M1167.5 416V432M1174.5 404V412M1180.5 398V406M1180.5 409V413M1186.5 400V429M1192.5 414V422M1199.5 407V434M1205.5 412V431M1211.5 398V400M1211.5 408V419M1217.5 394V438M1223.5 422V459M1230.5 406V421M1236.5 391V404M1236.5 411V419M1242.5 400V410M1248.5 385V449M1255.5 427V455M1261.5 431V449" stroke="#000" stroke-width="1" fill="none" shape-rendering="crispEdges"/>
<path d="M1.0 203h5V210h-5ZM7.0 194h5V204h-5ZM13.0 195h5V196h-5ZM19.0 195h5V199h-5ZM26.0 183h5V193h-5ZM32.0 197h5V199h-5ZM44.0 194h5V207h-5ZM75.0 183h5V196h-5ZM88.0 149h5V156h-5ZM100.0 151h5V158h-5ZM107.0 157h5V159h-5ZM119.0 152h5V155h-5ZM138.0 133h5V141h-5ZM150.0 119h5V123h-5ZM156.0 109h5V158h-5ZM163.0 157h5V158h-5ZM169.0 139h5V186h-5ZM175.0 180h5V184h-5ZM181.0 182h5V193h-5ZM188.0 179h5V198h-5ZM194.0 200h5V201h-5ZM200.0 200h5V208h-5ZM206.0 206h5V234h-5ZM212.0 243h5V258h-5ZM225.0 233h5V238h-5ZM244.0 179h5V193h-5ZM250.0 192h5V205h-5ZM262.0 186h5V192h-5ZM275.0 171h5V196h-5ZM287.0 151h5V172h-5ZM293.0 173h5V180h-5ZM300.0 173h5V180h-5ZM306.0 171h5V181h-5ZM331.0 139h5V169h-5ZM337.0 167h5V193h-5ZM343.0 184h5V187h-5ZM349.0 186h5V214h-5ZM368.0 179h5V192h-5ZM374.0 185h5V192h-5ZM381.0 192h5V201h-5ZM412.0 149h5V161h-5ZM430.0 143h5V168h-5ZM443.0 137h5V158h-5ZM449.0 142h5V148h-5ZM468.0 112h5V125h-5ZM480.0 104h5V125h-5ZM493.0 115h5V122h-5ZM499.0 116h5V131h-5ZM511.0 67h5V84h-5ZM530.0 82h5V99h-5ZM536.0 100h5V102h-5ZM549.0 186h5V210h-5ZM561.0 198h5V220h-5ZM567.0 227h5V255h-5ZM574.0 246h5V256h-5ZM586.0 230h5V238h-5ZM592.0 230h5V240h-5ZM605.0 206h5V231h-5ZM611.0 219h5V227h-5ZM617.0 224h5V238h-5ZM624.0 225h5V249h-5ZM630.0 257h5V266h-5ZM636.0 251h5V252h-5ZM642.0 255h5V271h-5ZM648.0 259h5V272h-5ZM655.0 273h5V283h-5ZM680.0 233h5V238h-5ZM704.0 194h5V195h-5ZM711.0 195h5V211h-5ZM717.0 204h5V220h-5ZM729.0 208h5V211h-5ZM736.0 207h5V220h-5ZM748.0 186h5V201h-5ZM761.0 188h5V201h-5ZM773.0 243h5V320h-5ZM792.0 286h5V374h-5ZM804.0 333h5V340h-5ZM817.0 321h5V335h-5ZM829.0 304h5V319h-5ZM835.0 334h5V362h-5ZM842.0 361h5V368h-5ZM848.0 367h5V369h-5ZM860.0 368h5V374h-5ZM873.0 361h5V372h-5ZM879.0 370h5V378h-5ZM885.0 374h5V384h-5ZM910.0 328h5V344h-5ZM916.0 340h5V344h-5ZM922.0 346h5V359h-5ZM929.0 355h5V366h-5ZM941.0 351h5V368h-5ZM947.0 356h5V369h-5ZM954.0 364h5V368h-5ZM960.0 355h5V382h-5ZM991.0 324h5V331h-5ZM997.0 328h5V333h-5ZM1010.0 334h5V335h-5ZM1016.0 334h5V344h-5ZM1028.0 337h5V343h-5ZM1041.0 333h5V343h-5ZM1047.0 340h5V359h-5ZM1059.0 359h5V372h-5ZM1066.0 359h5V390h-5ZM1078.0 370h5V390h-5ZM1084.0 389h5V391h-5ZM1091.0 391h5V407h-5ZM1103.0 402h5V403h-5ZM1116.0 401h5V407h-5ZM1128.0 382h5V387h-5ZM1134.0 383h5V398h-5ZM1140.0 395h5V398h-5ZM1147.0 395h5V401h-5ZM1153.0 404h5V419h-5ZM1159.0 415h5V419h-5ZM1165.0 418h5V428h-5ZM1184.0 401h5V419h-5ZM1197.0 407h5V422h-5ZM1203.0 421h5V422h-5ZM1215.0 395h5V437h-5ZM1221.0 427h5V444h-5ZM1246.0 388h5V441h-5ZM1253.0 440h5V441h-5ZM1259.0 440h5V446h-5Z" fill="#000" shape-rendering="crispEdges"/>
<path d="M38.5 192.5h4V203.5h-4ZM50.5 206.5h4V212.5h-4ZM57.5 194.5h4V213.5h-4ZM63.5 186.5h4V194.5h-4ZM69.5 183.5h4V185.5h-4ZM82.5 155.5h4V185.5h-4ZM94.5 158.5h4V164.5h-4ZM113.5 151.5h4V167.5h-4ZM125.5 148.5h4V157.5h-4ZM131.5 134.5h4V136.5h-4ZM144.5 124.5h4V131.5h-4ZM219.5 237.5h4V257.5h-4ZM231.5 221.5h4V239.5h-4ZM237.5 183.5h4V216.5h-4ZM256.5 191.5h4V204.5h-4ZM268.5 183.5h4V194.5h-4ZM281.5 161.5h4V195.5h-4ZM312.5 167.5h4V173.5h-4ZM318.5 155.5h4V176.5h-4ZM325.5 142.5h4V154.5h-4ZM356.5 192.5h4V217.5h-4ZM362.5 170.5h4V203.5h-4ZM387.5 199.5h4V212.5h-4ZM393.5 177.5h4V186.5h-4ZM399.5 166.5h4V170.5h-4ZM406.5 152.5h4V157.5h-4ZM418.5 149.5h4V160.5h-4ZM424.5 136.5h4V150.5h-4ZM437.5 148.5h4V160.5h-4ZM455.5 116.5h4V150.5h-4ZM462.5 113.5h4V115.5h-4ZM474.5 131.5h4V135.5h-4ZM486.5 116.5h4V124.5h-4ZM505.5 74.5h4V119.5h-4ZM518.5 74.5h4V95.5h-4ZM524.5 86.5h4V95.5h-4ZM543.5 98.5h4V119.5h-4ZM555.5 195.5h4V205.5h-4ZM580.5 230.5h4V245.5h-4ZM599.5 215.5h4V224.5h-4ZM661.5 252.5h4V273.5h-4ZM667.5 237.5h4V251.5h-4ZM673.5 225.5h4V227.5h-4ZM686.5 222.5h4V227.5h-4ZM692.5 219.5h4V221.5h-4ZM698.5 195.5h4V217.5h-4ZM723.5 208.5h4V214.5h-4ZM742.5 190.5h4V225.5h-4ZM754.5 195.5h4V202.5h-4ZM767.5 191.5h4V194.5h-4ZM779.5 312.5h4V352.5h-4ZM785.5 274.5h4V312.5h-4ZM798.5 340.5h4V373.5h-4ZM810.5 321.5h4V335.5h-4ZM823.5 324.5h4V328.5h-4ZM854.5 367.5h4V370.5h-4ZM866.5 367.5h4V372.5h-4ZM891.5 364.5h4V373.5h-4ZM898.5 356.5h4V370.5h-4ZM904.5 334.5h4V352.5h-4ZM935.5 351.5h4V364.5h-4ZM966.5 371.5h4V373.5h-4ZM972.5 359.5h4V370.5h-4ZM979.5 348.5h4V358.5h-4ZM985.5 328.5h4V347.5h-4ZM1003.5 333.5h4V339.5h-4ZM1022.5 343.5h4V349.5h-4ZM1035.5 340.5h4V355.5h-4ZM1053.5 352.5h4V355.5h-4ZM1072.5 370.5h4V392.5h-4ZM1097.5 401.5h4V403.5h-4ZM1109.5 401.5h4V403.5h-4ZM1122.5 386.5h4V405.5h-4ZM1172.5 412.5h4V418.5h-4ZM1178.5 406.5h4V408.5h-4ZM1190.5 407.5h4V413.5h-4ZM1209.5 400.5h4V407.5h-4ZM1228.5 421.5h4V443.5h-4ZM1234.5 404.5h4V410.5h-4ZM1240.5 388.5h4V399.5h-4Z" fill="none" stroke="#000" stroke-width="1" shape-rendering="crispEdges"/>
</g>
<path d="M4 445.5H1729" stroke="#000" stroke-width="1" stroke-dasharray="1 2" fill="none" shape-rendering="crispEdges"/>
<clipPath id="cp"><rect x="4.5" y="569" width="1724.5" height="114"/></clipPath>
<path d="M2.7 597.6L8.7 594.2L14.7 591.7L20.7 595.1L27.7 592.6L33.7 598.1L39.7 595.1L45.7 608.5L51.7 608.1L58.7 600.9L64.7 596.8L70.7 594.8L76.7 607.6L83.7 591.7L89.7 586.7L95.7 588.4L101.7 590.1L108.7 591.4L114.7 587.1L120.7 590.1L126.7 585.9L132.7 581.2L139.7 587.6L145.7 580.9L151.7 580.4L157.7 615.1L164.7 615.1L170.7 636.0L176.7 634.9L182.7 641.0L189.7 643.6L195.7 646.4L201.7 649.7L207.7 662.8L213.7 672.5L220.7 655.8L226.7 655.8L232.7 641.9L238.7 619.8L245.7 626.0L251.7 631.9L257.7 624.3L263.7 624.0L269.7 619.8L276.7 627.7L282.7 609.8L288.7 616.8L294.7 620.7L301.7 620.7L307.7 621.8L313.7 614.0L319.7 607.1L326.7 600.9L332.7 620.2L338.7 633.2L344.7 630.2L350.7 643.1L357.7 631.5L363.7 620.7L369.7 630.2L375.7 630.5L382.7 635.5L388.7 634.0L394.7 622.7L400.7 616.5L407.7 610.1L413.7 616.5L419.7 611.0L425.7 605.4L431.7 623.5L438.7 614.8L444.7 619.7L450.7 615.6L456.7 602.6L463.7 602.3L469.7 608.5L475.7 613.5L481.7 609.8L487.7 605.9L494.7 610.1L500.7 616.0L506.7 593.9L512.7 599.6L519.7 596.4L525.7 603.8L531.7 611.8L537.7 613.5L544.7 612.1L550.7 657.3L556.7 650.7L562.7 657.4L568.7 665.3L575.7 665.8L581.7 653.1L587.7 655.3L593.7 655.6L600.7 643.6L606.7 649.1L612.7 646.6L618.7 650.2L625.7 654.4L631.7 659.4L637.7 650.7L643.7 656.9L649.7 657.4L656.7 660.8L662.7 643.2L668.7 635.7L674.7 630.2L681.7 635.5L687.7 628.0L693.7 626.5L699.7 615.1L705.7 615.1L712.7 623.8L718.7 628.8L724.7 622.7L730.7 624.3L737.7 629.3L743.7 614.3L749.7 620.5L755.7 618.2L762.7 621.0L768.7 616.3L774.7 664.8L780.7 661.1L786.7 644.4L793.7 665.8L799.7 653.9L805.7 653.3L811.7 646.9L818.7 649.9L824.7 646.4L830.7 644.4L836.7 654.9L843.7 656.1L849.7 656.6L855.7 656.1L861.7 657.4L867.7 654.4L874.7 655.6L880.7 657.4L886.7 659.4L892.7 647.4L899.7 642.2L905.7 631.5L911.7 635.5L917.7 635.5L923.7 642.2L930.7 645.7L936.7 636.5L942.7 644.1L948.7 644.9L955.7 643.6L961.7 650.7L967.7 643.2L973.7 634.4L980.7 628.2L986.7 617.3L992.7 618.5L998.7 620.5L1004.7 620.5L1011.7 621.5L1017.7 628.2L1023.7 628.2L1029.7 628.2L1036.7 625.5L1042.7 627.2L1048.7 641.0L1054.7 635.2L1060.7 649.4L1067.7 659.4L1073.7 641.9L1079.7 651.9L1085.7 653.3L1092.7 660.6L1098.7 654.9L1104.7 655.8L1110.7 655.8L1117.7 658.3L1123.7 639.4L1129.7 639.4L1135.7 646.4L1141.7 646.6L1148.7 648.6L1154.7 659.9L1160.7 659.9L1166.7 664.9L1173.7 647.7L1179.7 642.2L1185.7 650.2L1191.7 640.2L1198.7 649.1L1204.7 649.1L1210.7 630.2L1216.7 651.4L1222.7 654.9L1229.7 638.0L1235.7 628.2L1241.7 618.5L1247.7 644.4L1254.7 644.4L1260.7 646.6" fill="none" stroke="#2196f3" stroke-width="1.3" stroke-linejoin="round" clip-path="url(#cp)"/>
<path d="M4.5 568.5H1791M4.5 683.5H1791M1729.5 5V717" stroke="#4d505c" stroke-width="1" fill="none" shape-rendering="crispEdges"/>
<clipPath id="ca"><rect x="1730" y="5" width="61" height="563"/></clipPath>
<clipPath id="cr"><rect x="1730" y="569" width="61" height="114"/></clipPath>
<g clip-path="url(#ca)"><text x="1741.51" y="543.40" font-size="16" fill="#545864" textLength="38.85" lengthAdjust="spacingAndGlyphs">18.00</text><text x="1741.83" y="483.40" font-size="16" fill="#545864" textLength="38.53" lengthAdjust="spacingAndGlyphs">20.00</text><text x="1741.83" y="424.40" font-size="16" fill="#545864" textLength="38.53" lengthAdjust="spacingAndGlyphs">22.00</text><text x="1741.83" y="364.40" font-size="16" fill="#545864" textLength="38.53" lengthAdjust="spacingAndGlyphs">24.00</text><text x="1741.83" y="304.40" font-size="16" fill="#545864" textLength="38.53" lengthAdjust="spacingAndGlyphs">26.00</text><text x="1741.83" y="245.40" font-size="16" fill="#545864" textLength="38.53" lengthAdjust="spacingAndGlyphs">28.00</text><text x="1742.14" y="185.40" font-size="16" fill="#545864" textLength="38.21" lengthAdjust="spacingAndGlyphs">30.00</text><text x="1742.14" y="125.40" font-size="16" fill="#545864" textLength="38.21" lengthAdjust="spacingAndGlyphs">32.00</text><text x="1742.14" y="66.40" font-size="16" fill="#545864" textLength="38.21" lengthAdjust="spacingAndGlyphs">34.00</text></g>
<g clip-path="url(#cr)"><text x="1741.99" y="576.40" font-size="16" fill="#545864" textLength="38.37" lengthAdjust="spacingAndGlyphs">80.00</text><text x="1741.83" y="614.40" font-size="16" fill="#545864" textLength="38.53" lengthAdjust="spacingAndGlyphs">60.00</text><text x="1742.30" y="653.40" font-size="16" fill="#545864" textLength="38.05" lengthAdjust="spacingAndGlyphs">40.00</text></g>
<path d="M1729 297.1H1786a2 2 0 0 1 2 2V315.6a2 2 0 0 1 -2 2H1729Z" fill="#f44336"/>
<path d="M1729 363.1H1786a2 2 0 0 1 2 2V381.6a2 2 0 0 1 -2 2H1729Z" fill="#2962ff"/>
<path d="M1729 435.1H1786a2 2 0 0 1 2 2V453.6a2 2 0 0 1 -2 2H1729Z" fill="#000000"/>
<path d="M1729 476.1H1786a2 2 0 0 1 2 2V494.6a2 2 0 0 1 -2 2H1729Z" fill="#4caf50"/>
<path d="M1729 515.1H1786a2 2 0 0 1 2 2V533.6a2 2 0 0 1 -2 2H1729Z" fill="#4caf50"/>
<g><text x="1741.62" y="313.40" font-size="16" fill="#fff" textLength="38.84" lengthAdjust="spacingAndGlyphs">25.70</text><text x="1741.62" y="379.40" font-size="16" fill="#fff" textLength="38.84" lengthAdjust="spacingAndGlyphs">23.50</text><text x="1741.62" y="451.40" font-size="16" fill="#fff" textLength="38.84" lengthAdjust="spacingAndGlyphs">21.10</text><text x="1741.30" y="492.40" font-size="16" fill="#fff" textLength="39.16" lengthAdjust="spacingAndGlyphs">19.70</text><text x="1741.30" y="531.40" font-size="16" fill="#fff" textLength="39.16" lengthAdjust="spacingAndGlyphs">18.40</text></g>
<g><text x="78.94" y="706.00" font-size="16" fill="#4f535e" font-weight="bold" textLength="34.16" lengthAdjust="spacingAndGlyphs">2021</text><text x="207.81" y="706.00" font-size="16" fill="#545864" textLength="25.73" lengthAdjust="spacingAndGlyphs">Feb</text><text x="319.40" y="706.00" font-size="16" fill="#545864" textLength="25.79" lengthAdjust="spacingAndGlyphs">Mar</text><text x="464.50" y="706.00" font-size="16" fill="#545864" textLength="23.70" lengthAdjust="spacingAndGlyphs">Apr</text><text x="580.34" y="706.00" font-size="16" fill="#545864" textLength="27.46" lengthAdjust="spacingAndGlyphs">May</text><text x="707.85" y="706.00" font-size="16" fill="#545864" textLength="23.46" lengthAdjust="spacingAndGlyphs">Jun</text><text x="840.04" y="706.00" font-size="16" fill="#545864" textLength="20.67" lengthAdjust="spacingAndGlyphs">Jul</text><text x="968.40" y="706.00" font-size="16" fill="#545864" textLength="25.09" lengthAdjust="spacingAndGlyphs">Aug</text><text x="1105.36" y="706.00" font-size="16" fill="#545864" textLength="24.13" lengthAdjust="spacingAndGlyphs">Sep</text><text x="1236.19" y="706.00" font-size="16" fill="#545864" textLength="23.68" lengthAdjust="spacingAndGlyphs">Oct</text><text x="1353.35" y="706.00" font-size="16" fill="#545864" textLength="25.65" lengthAdjust="spacingAndGlyphs">Nov</text><text x="1490.63" y="706.00" font-size="16" fill="#545864" textLength="25.96" lengthAdjust="spacingAndGlyphs">Dec</text><text x="1623.73" y="706.00" font-size="16" fill="#4f535e" font-weight="bold" textLength="34.84" lengthAdjust="spacingAndGlyphs">2022</text></g>
<text y="28.80" font-size="16"><tspan x="13.79" fill="#545864" textLength="44.96" lengthAdjust="spacingAndGlyphs">CHINA </tspan><tspan x="59.97" fill="#545864" textLength="29.98" lengthAdjust="spacingAndGlyphs">GAS </tspan><tspan x="90.91" fill="#545864" textLength="45.36" lengthAdjust="spacingAndGlyphs">HOLD, </tspan><tspan x="136.94" fill="#545864" textLength="27.67" lengthAdjust="spacingAndGlyphs">1D, </tspan><tspan x="164.27" fill="#545864" textLength="38.74" lengthAdjust="spacingAndGlyphs">HKEX </tspan><tspan x="208.16" fill="#545864" textLength="10.48" lengthAdjust="spacingAndGlyphs">O</tspan><tspan x="218.16" fill="#000" textLength="41.08" lengthAdjust="spacingAndGlyphs">21.25 </tspan><tspan x="263.87" fill="#545864" textLength="12.04" lengthAdjust="spacingAndGlyphs">H</tspan><tspan x="274.68" fill="#000" textLength="40.27" lengthAdjust="spacingAndGlyphs">21.55 </tspan><tspan x="320.42" fill="#545864" textLength="7.54" lengthAdjust="spacingAndGlyphs">L</tspan><tspan x="327.75" fill="#000" textLength="41.88" lengthAdjust="spacingAndGlyphs">21.00 </tspan><tspan x="373.75" fill="#545864" textLength="9.37" lengthAdjust="spacingAndGlyphs">C</tspan><tspan x="382.86" fill="#000" textLength="41.19" lengthAdjust="spacingAndGlyphs">21.10 </tspan><tspan x="428.91" fill="#000" textLength="41.76" lengthAdjust="spacingAndGlyphs">−0.15 </tspan><tspan x="471.18" fill="#000" textLength="56.15" lengthAdjust="spacingAndGlyphs">(−0.71%)</tspan></text>
<text y="49.60" font-size="16"><tspan x="13.32" fill="#545864" textLength="23.99" lengthAdjust="spacingAndGlyphs">MA </tspan><tspan x="38.28" fill="#545864" textLength="30.74" lengthAdjust="spacingAndGlyphs">(50, </tspan><tspan x="69.19" fill="#545864" textLength="43.74" lengthAdjust="spacingAndGlyphs">close, </tspan><tspan x="113.02" fill="#545864" textLength="18.53" lengthAdjust="spacingAndGlyphs">0) </tspan><tspan x="135.04" fill="#2196f3" textLength="37.96" lengthAdjust="spacingAndGlyphs">23.02</tspan></text>
<text y="70.50" font-size="16"><tspan x="13.32" fill="#545864" textLength="23.99" lengthAdjust="spacingAndGlyphs">MA </tspan><tspan x="38.28" fill="#545864" textLength="30.74" lengthAdjust="spacingAndGlyphs">(20, </tspan><tspan x="69.19" fill="#545864" textLength="43.74" lengthAdjust="spacingAndGlyphs">close, </tspan><tspan x="113.02" fill="#545864" textLength="18.53" lengthAdjust="spacingAndGlyphs">0) </tspan><tspan x="135.04" fill="#f44336" textLength="37.96" lengthAdjust="spacingAndGlyphs">21.99</tspan></text>
<text y="91.60" font-size="16"><tspan x="13.65" fill="#545864" textLength="21.23" lengthAdjust="spacingAndGlyphs">BB </tspan><tspan x="35.77" fill="#545864" textLength="30.87" lengthAdjust="spacingAndGlyphs">(20, </tspan><tspan x="66.39" fill="#545864" textLength="44.09" lengthAdjust="spacingAndGlyphs">close, </tspan><tspan x="110.80" fill="#545864" textLength="15.65" lengthAdjust="spacingAndGlyphs">2, </tspan><tspan x="128.42" fill="#545864" textLength="18.53" lengthAdjust="spacingAndGlyphs">0) </tspan><tspan x="150.85" fill="#f44336" textLength="41.94" lengthAdjust="spacingAndGlyphs">21.99 </tspan><tspan x="196.75" fill="#d0d3dc" textLength="41.65" lengthAdjust="spacingAndGlyphs">23.08 </tspan><tspan x="242.66" fill="#d0d3dc" textLength="37.02" lengthAdjust="spacingAndGlyphs">20.91</tspan></text>
<text y="593.80" font-size="16"><tspan x="14.04" fill="#545864" textLength="23.35" lengthAdjust="spacingAndGlyphs">RSI </tspan><tspan x="39.19" fill="#545864" textLength="30.36" lengthAdjust="spacingAndGlyphs">(14, </tspan><tspan x="69.60" fill="#545864" textLength="43.93" lengthAdjust="spacingAndGlyphs">close) </tspan><tspan x="119.21" fill="#2196f3" textLength="35.91" lengthAdjust="spacingAndGlyphs">40.25</tspan></text>
<rect x="1325" y="5" width="400" height="60" fill="#fff"/>
<g role="img" aria-label="FOREX.com"><title>FOREX.com</title>
<text y="61.60" font-size="77.25" fill="#043a50" font-weight="bold"><tspan x="1323.87" y="61.60" font-weight="bold" textLength="48.16" lengthAdjust="spacingAndGlyphs" stroke="#043a50" stroke-width="4" stroke-linejoin="miter">F</tspan><tspan x="1376.09" y="63.00" fill="#0db15c" font-size="82" font-weight="normal" textLength="60.42" lengthAdjust="spacingAndGlyphs">O</tspan><tspan x="1446.75" y="61.60" font-weight="bold" textLength="53.55" lengthAdjust="spacingAndGlyphs" stroke="#043a50" stroke-width="4" stroke-linejoin="miter">R</tspan><tspan x="1505.34" y="61.60" font-weight="bold" textLength="49.61" lengthAdjust="spacingAndGlyphs" stroke="#043a50" stroke-width="4" stroke-linejoin="miter">E</tspan><tspan x="1561.80" y="61.60" font-weight="bold" textLength="53.86" lengthAdjust="spacingAndGlyphs" stroke="#043a50" stroke-width="4" stroke-linejoin="miter">X</tspan><tspan x="1618.07" y="46.90" font-size="39.8" font-weight="bold" font-family="DejaVu Sans, sans-serif" textLength="16.46" lengthAdjust="spacingAndGlyphs" stroke="#043a50" stroke-width="1.4" stroke-linejoin="round">.</tspan><tspan x="1632.00" y="47.20" font-size="39.8" font-weight="bold" font-family="DejaVu Sans, sans-serif" textLength="25.16" lengthAdjust="spacingAndGlyphs" stroke="#043a50" stroke-width="1.4" stroke-linejoin="miter">c</tspan><tspan x="1656.42" y="47.20" font-size="39.8" font-weight="bold" font-family="DejaVu Sans, sans-serif" textLength="27.14" lengthAdjust="spacingAndGlyphs" stroke="#043a50" stroke-width="1.4" stroke-linejoin="miter">o</tspan><tspan x="1683.71" y="46.90" font-size="39.8" font-weight="bold" font-family="DejaVu Sans, sans-serif" textLength="41.56" lengthAdjust="spacingAndGlyphs" stroke="#043a50" stroke-width="1.4" stroke-linejoin="miter">m</tspan></text>
<g fill="#0db15c"><path fill-rule="evenodd" d="M1406 4.8C1423.17 4.8 1435.1 17.06 1435.1 34.7C1435.1 52.34 1423.17 64.6 1406 64.6C1388.83 64.6 1376.9 52.34 1376.9 34.7C1376.9 17.06 1388.83 4.8 1406 4.8ZM1406.3 12.35C1414.62 12.35 1418.9 19.97 1418.9 34.75C1418.9 49.53 1414.62 57.15 1406.3 57.15C1397.98 57.15 1393.7 49.53 1393.7 34.75C1393.7 19.97 1397.98 12.35 1406.3 12.35Z"/><path d="M1410.1 28H1444L1442 33.4H1408.2Z"/><path d="M1408.7 38.2H1442.5L1440.6 43.5H1406.8Z"/></g></g>
</svg>
</body></html>
